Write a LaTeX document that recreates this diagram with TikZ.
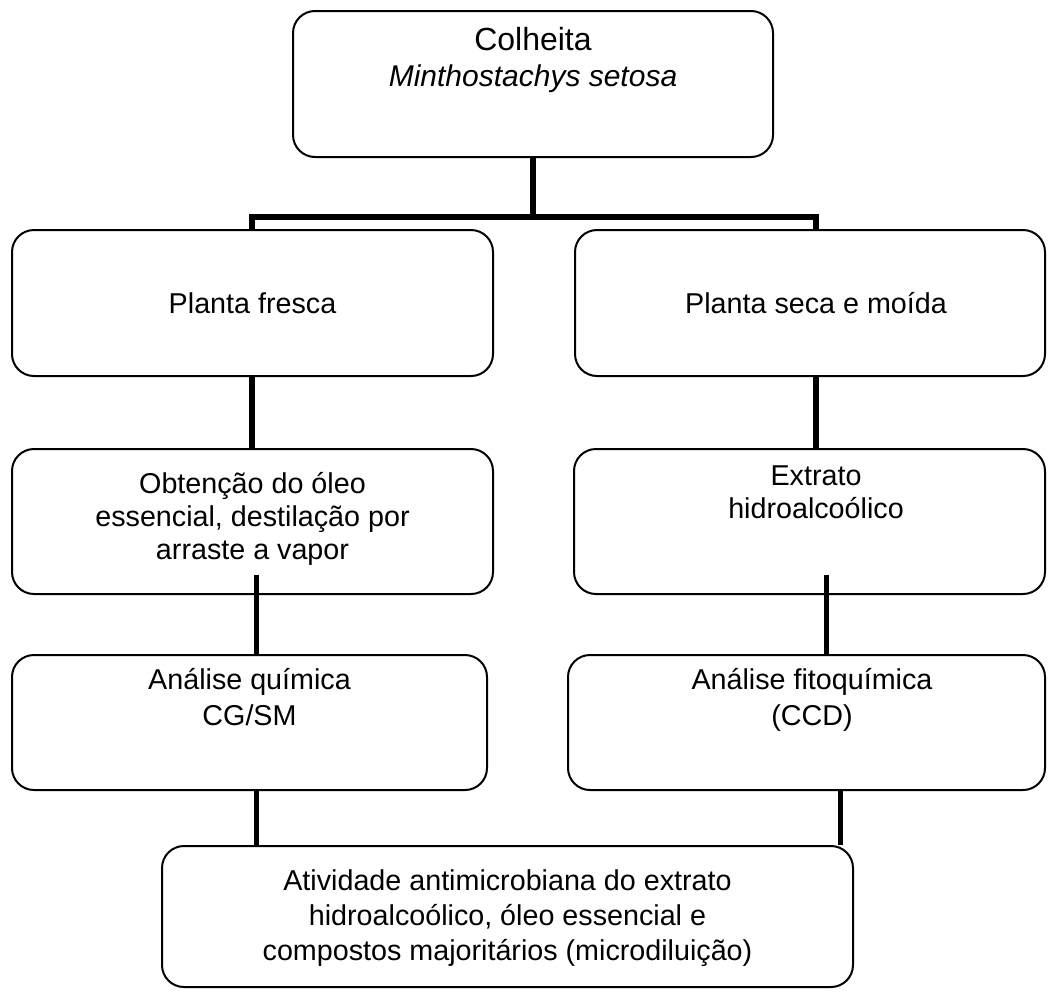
\documentclass[tikz,border=0pt]{standalone}
\usepackage{fontspec}
\setmainfont{Liberation Sans}
\usetikzlibrary{calc}
\newcommand\hs{\rule{0pt}{14pt}}
\begin{document}
\begin{tikzpicture}[x=0.5pt,y=-0.5pt,
  box/.style={draw, line width=1pt, rounded corners=11pt, inner sep=0pt},
  txt/.style={inner sep=0pt, align=center, font=\fontsize{14.35}{16.5}\selectfont},
  conn/.style={line width=3pt, line cap=butt, line join=miter},
  connb/.style={line width=2.5pt, line cap=butt}]
\useasboundingbox (0,0) rectangle (1048,991);
% boxes
\node[box, minimum width=240pt, minimum height=73pt] (T) at (533,84) {};
\node[box, minimum width=240.5pt, minimum height=73pt] (A1) at (252.5,303) {};
\node[box, minimum width=235pt, minimum height=73pt] (B1) at (810,303) {};
\node[box, minimum width=240.5pt, minimum height=72.5pt] (A2) at (252.5,521.5) {};
\node[box, minimum width=235.5pt, minimum height=72.5pt] (B2) at (809.5,521.5) {};
\node[box, minimum width=237.5pt, minimum height=67.5pt] (A3) at (249.5,722.5) {};
\node[box, minimum width=238.5pt, minimum height=67.5pt] (B3) at (806.5,722.5) {};
\node[box, minimum width=345.5pt, minimum height=70.5pt] (C) at (507.5,916.5) {};
% texts
\node[txt, anchor=north, font=\fontsize{15}{18}\selectfont] (Tt) at (533,22) {\hs{\fontsize{16}{18}\selectfont Colheita}\\ \textit{Minthostachys setosa}};
\node[txt] (A1t) at (252.5,303) {Planta fresca};
\node[txt] (B1t) at (816,303) {Planta seca e moída};
\node[txt, anchor=north] (A2t) at (252.5,465) {\hs Obtenção do óleo\\ essencial, destilação por\\ arraste a vapor};
\node[txt, anchor=north] (B2t) at (816,457) {\hs Extrato\\ hidroalcoólico};
\node[txt, anchor=north, font=\fontsize{14.35}{18}\selectfont] (A3t) at (249.5,661) {\hs Análise química\\ CG/SM};
\node[txt, anchor=north, font=\fontsize{14.35}{18}\selectfont] (B3t) at (812,661) {\hs Análise fitoquímica\\ (CCD)};
\node[txt, anchor=north, font=\fontsize{14.35}{17.5}\selectfont] (Ct) at (507.5,862) {\hs Atividade antimicrobiana do extrato\\ hidroalcoólico, óleo essencial e\\ compostos majoritários (microdiluição)};
% connector x positions
\coordinate (J) at (533,216.5);
\coordinate (xL) at (252,0);
\coordinate (xR) at (816,0);
\coordinate (xL2) at (256,0);
\coordinate (xR2) at (826,0);
\coordinate (xR3) at (840,0);
% connectors
\draw[conn] (T.south) -- (J);
\draw[conn] (A1.north -| xL) |- (J) -| (B1.north -| xR);
\draw[conn] (A1.south -| xL) -- (A2.north -| xL);
\draw[conn] (B1.south -| xR) -- (B2.north -| xR);
\draw[connb] ($(A2.south -| xL2)+(0,-20)$) -- (A3.north -| xL2);
\draw[connb] ($(B2.south -| xR2)+(0,-20)$) -- (B3.north -| xR2);
\draw[connb] ($(A3.south -| xL2)+(0,-2)$) -- (C.north -| xL2);
\draw[connb] (B3.south -| xR3) -- (C.north -| xR3);
\end{tikzpicture}
\end{document}
